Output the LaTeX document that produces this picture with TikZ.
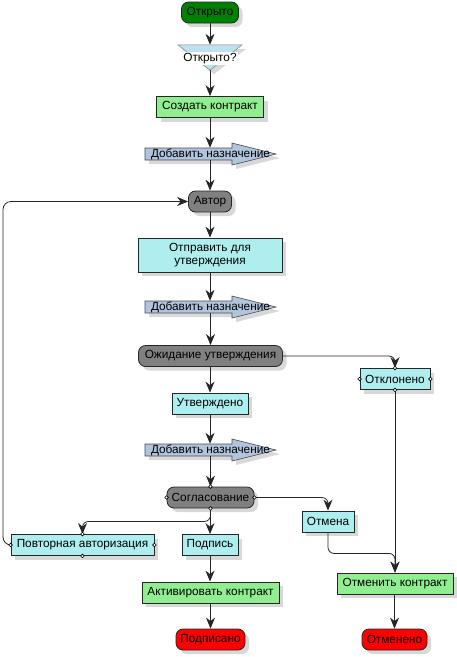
\documentclass[tikz,border=0pt]{standalone}
\usepackage{fontspec}
\setmainfont{Liberation Sans}
\usetikzlibrary{shadows,arrows.meta,calc}
\definecolor{dkgreen}{RGB}{0,128,0}
\definecolor{ltgreen}{RGB}{144,238,144}
\definecolor{pcyan}{RGB}{175,238,238}
\definecolor{mgray}{RGB}{128,128,128}
\definecolor{steelb}{RGB}{176,196,222}
\definecolor{decblue}{RGB}{190,225,240}
\tikzset{
  shad/.style={drop shadow={shadow xshift=4pt, shadow yshift=-4pt, fill=black!30}},
  box/.style={draw=black!85, line width=0.8pt, inner sep=0pt, shad, align=center},
  termo/.style={box, rounded corners=7pt},
  conn/.style={draw=black!85, line width=0.8pt, rounded corners=6pt, -{Stealth[length=11pt,width=9pt,inset=3.5pt]}},
  port/.style={circle, draw=black, fill=white, inner sep=0pt, minimum size=3.6pt, line width=0.6pt},
  arrowshape/.style={draw=black!70, line width=0.6pt, fill=steelb, shad},
}
\newcommand\addarrowshape[2]{%
  \filldraw[arrowshape] (145,#2-6) -- (232,#2-6) -- (232,#2-11) -- (276,#2) -- (232,#2+11) -- (232,#2+6) -- (145,#2+6) -- cycle;
  \node[inner sep=0pt, minimum width=131, minimum height=12] (#1) at (210.5,#2) {Добавить назначение};}
\begin{document}
\begin{tikzpicture}[x=1pt,y=-1pt, font=\fontsize{11.8}{13.5}\selectfont]
\useasboundingbox (0,0) rectangle (456,657);
% nodes
\node[termo, fill=dkgreen, minimum width=57, minimum height=21] (n1) at (210,12.5) {Открыто};
\node[inner sep=0pt, minimum width=64, minimum height=25] (n2) at (210,57.5) {};
\filldraw[draw=black!50, line width=0.5pt, fill=decblue, shad] (n2.north west) -- (n2.north east) -- (n2.south) -- cycle;
\node[fill=white, inner sep=1pt] (n2t) at (210,58.5) {Открыто?};
\node[box, fill=ltgreen, minimum width=107, minimum height=21] (n3) at (210,107) {Создать контракт};
\addarrowshape{n4}{154}
\node[termo, fill=mgray, minimum width=43, minimum height=21] (n5) at (210,201.5) {Автор};
\node[box, fill=pcyan, minimum width=144, minimum height=34] (n6) at (210,255) {Отправить для\\утверждения};
\addarrowshape{n7}{307}
\node[termo, fill=mgray, minimum width=144, minimum height=21] (n8) at (210.5,356) {Ожидание утверждения};
\node[box, fill=pcyan, minimum width=70, minimum height=21] (n9) at (395,379) {Отклонено};
\node[box, fill=pcyan, minimum width=76, minimum height=21] (n10) at (210,403.5) {Утверждено};
\addarrowshape{n11}{450}
\node[termo, fill=mgray, minimum width=87, minimum height=21] (n12) at (210.5,497.5) {Согласование};
\node[box, fill=pcyan, minimum width=52, minimum height=21] (n13) at (328,521.5) {Отмена};
\node[box, fill=pcyan, minimum width=143, minimum height=21] (n14) at (82.5,545) {Повторная авторизация};
\node[box, fill=pcyan, minimum width=56, minimum height=21] (n15) at (210,545) {Подпись};
\node[box, fill=ltgreen, minimum width=137, minimum height=21] (n16) at (210.5,592.5) {Активировать контракт};
\node[box, fill=ltgreen, minimum width=116, minimum height=21] (n17) at (395,583.5) {Отменить контракт};
\node[termo, fill=red, minimum width=69, minimum height=21] (n18) at (210.5,639.5) {Подписано};
\node[termo, fill=red, minimum width=65, minimum height=21] (n19) at (394.5,639.5) {Отменено};
% connectors
\draw[conn] (n1.south) -- (n2.north);
\draw[conn] (n2.south) -- (n3.north);
\draw[conn] (n3.south) -- (n4.north -| n3.south);
\draw[conn] (n4.south -| n5.north) -- (n5.north);
\draw[conn] (n5.south) -- (n6.north);
\draw[conn] (n6.south) -- (n7.north -| n6.south);
\draw[conn] (n7.south -| n8.north) -- (n8.north);
\draw[conn] (n8.south -| n10.north) -- (n10.north);
\draw[conn] (n8.east) -| (n9.north);
\draw[conn] (n10.south) -- (n11.north -| n10.south);
\draw[conn] (n11.south -| n12.north) -- (n12.north);
\draw[conn] (n12.east) -| (n13.north);
\draw[conn] (n12.south -| n15.north) -- (n15.north);
\draw[conn] (n12.south) -- ++(0,13) -| (n14.north);
\draw[conn, rounded corners=8pt] (n14.west) -| (3,300) |- (n5.west);
\draw[conn] (n9.south) -- (n17.north);
\draw[conn] (n13.south) -- ++(0,21) -| (n17.north);
\draw[conn] (n15.south) -- (n16.north -| n15.south);
\draw[conn] (n16.south -| n18.north) -- (n18.north);
\draw[conn] (n17.south -| n19.north) -- (n19.north);
% ports
\foreach \nn in {n9,n12,n14}{
  \foreach \aa in {north,south,east,west}{
    \node[port, name=p\nn\aa] at (\nn.\aa) {};
  }
}
\end{tikzpicture}
\end{document}
